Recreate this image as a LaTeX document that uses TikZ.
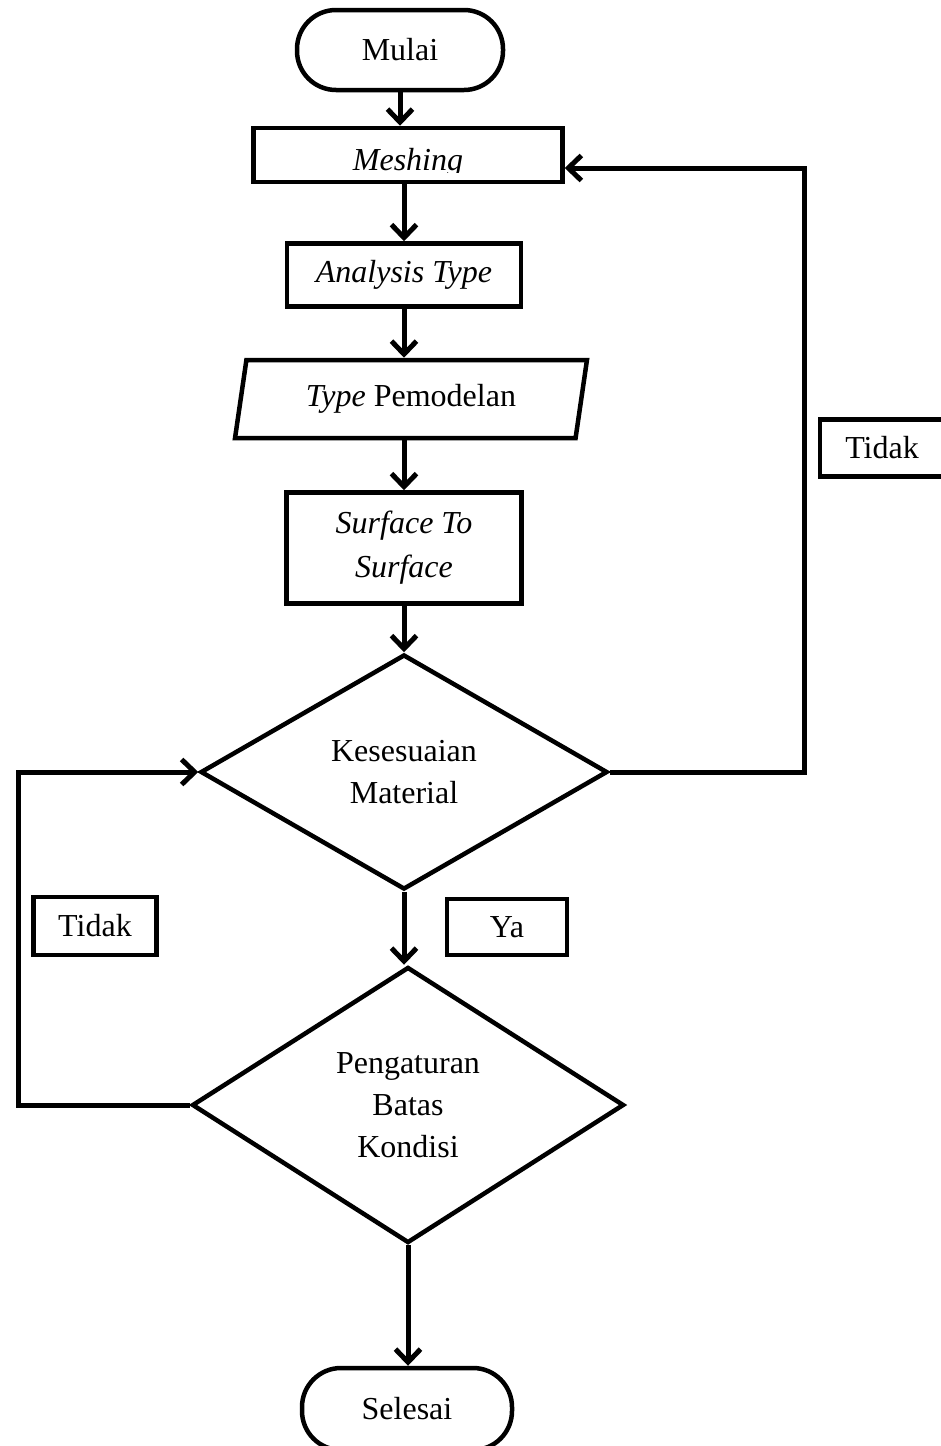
\documentclass[tikz,border=0pt]{standalone}
\usepackage{fontspec}
\setmainfont{Liberation Serif}
\usepackage{tikz}
\usetikzlibrary{arrows.meta,shapes.geometric}
\tikzset{
  trm/.style={draw, line width=4.5pt, rounded corners=39pt, minimum width=206pt, minimum height=80pt},
  prc/.style={draw, line width=4.5pt, inner sep=0pt},
  inp/.style={draw, line width=4.5pt, trapezium, trapezium left angle=76, trapezium right angle=104,
    trapezium stretches=true, minimum width=353pt, minimum height=78pt, inner sep=0pt},
  dec/.style={draw, line width=4.5pt, diamond, inner sep=0pt, align=center},
  lbl/.style={draw, line width=4.5pt, inner sep=0pt},
  arr/.style={-{Straight Barb[length=13pt,width=25pt]}, line width=5pt},
}

\begin{document}
\begin{tikzpicture}[x=1pt,y=-1pt,font=\fontsize{32}{42}\selectfont]
  \useasboundingbox (0,0) rectangle (940,1446);
  % main column
  \node[trm] (mulai) at (400,50) {Mulai};
  \node[prc, minimum width=309pt, minimum height=54pt] (mesh) at (408,155) {};
  \begin{scope}
    \clip (256,130) rectangle (561,172);
    \node[font=\fontsize{32}{42}\selectfont\itshape] (meshtxt) at (408,163) {Meshing};
  \end{scope}
  \node[prc, minimum width=234pt, minimum height=63pt, font=\fontsize{32}{42}\selectfont\itshape]
    (anls) at (404,275) {Analysis Type};
  \node[inp] (model) at (411,399) {\textit{Type} Pemodelan};
  \node[prc, minimum width=235pt, minimum height=111pt, align=center,
    font=\fontsize{32}{44}\selectfont\itshape] (surf) at (404,548) {Surface To\\ Surface};
  \node[dec, minimum width=407pt, minimum height=235pt] (cek) at (404,772) {Kesesuaian\\ Material};
  \node[dec, minimum width=432pt, minimum height=276pt] (batas) at (408,1105)
    {Pengaturan\\ Batas\\ Kondisi};
  \node[trm, minimum width=210pt, minimum height=82pt] (selesai) at (407,1409) {Selesai};

  % labels
  \node[lbl, minimum width=124pt, minimum height=57pt] (tdkr) at (882,448) {Tidak};
  \node[lbl, minimum width=123pt, minimum height=58pt] (tdkl) at (95,926) {Tidak};
  \node[lbl, minimum width=120pt, minimum height=56pt] (ya) at (507,927) {Ya};

  % flow
  \draw[arr] (mulai.south) -- (mulai.south |- mesh.north);
  \draw[arr] (mesh.south -| anls.north) -- (anls.north);
  \draw[arr] (anls.south) -- (anls.south |- model.north);
  \draw[arr] (model.south -| surf.north) -- (surf.north);
  \draw[arr] (surf.south) -- (surf.south |- cek.north);
  \draw[arr] (cek.south) -- (cek.south |- batas.north);
  \draw[arr] (batas.south) -- (batas.south |- selesai.north);

  % loops back
  \coordinate (rturn) at (804,168);
  \coordinate (lturn) at (18,1105);
  \draw[arr] (cek.east) -| (rturn) -- (mesh.east |- rturn);
  \draw[arr] (batas.west) -- (lturn) |- (cek.west);
\end{tikzpicture}
\end{document}
